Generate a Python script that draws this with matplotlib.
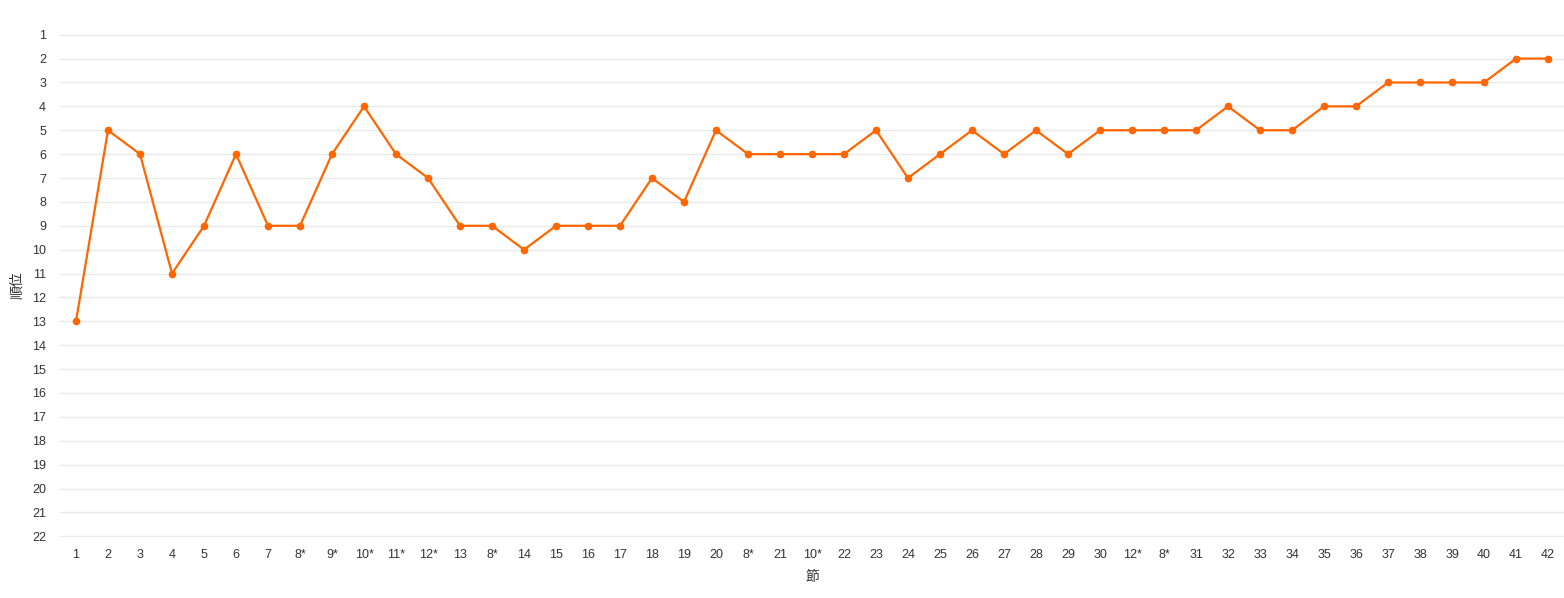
import matplotlib
matplotlib.use("Agg")
import matplotlib.pyplot as plt

plt.rcParams['font.family'] = ['Liberation Sans', 'Noto Sans CJK JP', 'DejaVu Sans']

# match labels (節) and league position (順位)
rounds = ['1', '2', '3', '4', '5', '6', '7', '8*', '9*', '10*', '11*', '12*', '13', '8*',
          '14', '15', '16', '17', '18', '19', '20', '8*', '21', '10*', '22', '23', '24',
          '25', '26', '27', '28', '29', '30', '12*', '8*', '31', '32', '33', '34', '35',
          '36', '37', '38', '39', '40', '41', '42']
positions = [13, 5, 6, 11, 9, 6, 9, 9, 6, 4, 6, 7, 9, 9, 10, 9, 9, 9, 7, 8, 5, 6, 6, 6,
             6, 5, 7, 6, 5, 6, 5, 6, 5, 5, 5, 5, 4, 5, 5, 4, 4, 3, 3, 3, 3, 2, 2]
n_teams = 22

fig = plt.figure(figsize=(15.64, 5.98), dpi=100)
ax = fig.add_axes([60 / 1564, 61 / 598, 1504 / 1564, 503 / 598])

x = range(len(rounds))
ax.plot(x, positions, color='#ff6600', lw=1.6, marker='o', ms=4.5, zorder=3)

ax.set_xlim(-0.5, len(rounds) - 0.5)
ax.set_ylim(n_teams + 0.03, 1 - 0.03)
ax.set_xticks(list(x))
ax.set_xticklabels(rounds)
ax.set_yticks(range(1, n_teams + 1))
ax.tick_params(axis='both', length=0, labelsize=9, labelcolor='#333333')
ax.tick_params(axis='x', pad=9)
ax.tick_params(axis='y', pad=10)
ax.grid(axis='y', color='#e9e9e9', lw=1)
ax.set_axisbelow(True)
for s in ax.spines.values():
    s.set_visible(False)

ax.set_xlabel('節', fontsize=10, color='#333333', labelpad=6)
ax.set_ylabel('順位', fontsize=10, color='#333333', labelpad=6)

fig.savefig('out.png', dpi=100)
